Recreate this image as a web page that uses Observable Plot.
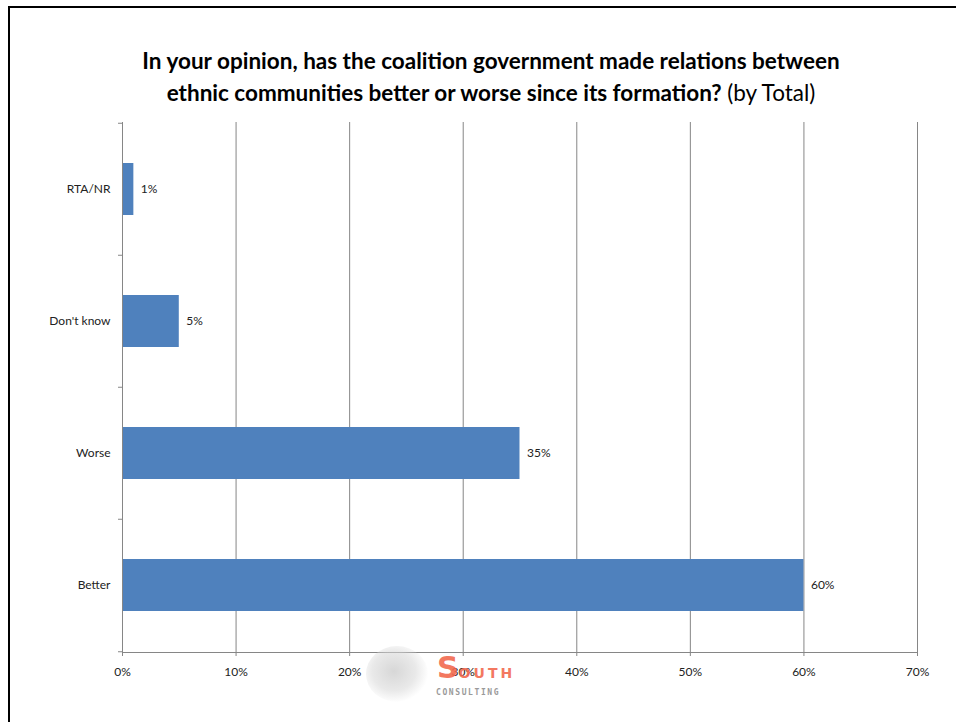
<!DOCTYPE html>
<html>
<head>
<meta charset="utf-8">
<script src="https://cdn.jsdelivr.net/npm/d3@7"></script>
<script src="https://cdn.jsdelivr.net/npm/@observablehq/plot@0.6"></script>
<style>
  html, body { margin: 0; padding: 0; background: #fff; }
  #wrap { position: relative; width: 956px; height: 722px; overflow: hidden; font-family: Lato, "Open Sans", sans-serif; }
  #border { position: absolute; left: 8px; top: 6px; width: 1000px; height: 1000px; border-left: 2.5px solid #000; border-top: 2.5px solid #000; box-sizing: border-box; }
  #title { position: absolute; left: 0; top: 45px; width: 982px; text-align: center; font-family: Lato, sans-serif; font-size: 22.5px; line-height: 32px; color: #000; font-weight: bold; }
  #title .n { font-weight: normal; }
  #chart { position: absolute; left: 0; top: 0; }
  #logo { position: absolute; left: 360px; top: 644px; width: 170px; height: 66px; }
  #globe { position: absolute; left: 6px; top: 2px; width: 62px; height: 56px; border-radius: 50%;
           background: radial-gradient(ellipse at 45% 45%, rgba(205,205,205,0.8) 0%, rgba(215,215,215,0.55) 45%, rgba(235,235,235,0.0) 72%); }
  #south { position: absolute; left: 77px; top: 6px; color: #f26a4f; font-family: "DejaVu Sans", sans-serif; font-weight: bold; opacity: 0.9; white-space: nowrap; }
  #south .big { font-size: 30px; }
  #south .small { font-size: 14px; letter-spacing: 3px; }
  #cons { position: absolute; left: 76px; top: 44px; color: #9a9a9a; font-family: "DejaVu Sans Mono", monospace; font-size: 8px; letter-spacing: 1.6px; font-weight: bold; }
</style>
</head>
<body>
<div id="wrap">
  <div id="border"></div>
  <div id="title">In your opinion, has the coalition government made relations between<br>ethnic communities better or worse since its formation? <span class="n">(by Total)</span></div>
  <div id="chart"></div>
  <div id="logo">
    <div id="globe"></div>
    <div id="south"><span class="big">S</span><span class="small">OUTH</span></div>
    <div id="cons">CONSULTING</div>
  </div>
</div>
<script>
const categories = ["RTA/NR", "Don't know", "Worse", "Better"];
const values = [0.01, 0.05, 0.35, 0.60];
const xTicks = [0, 0.1, 0.2, 0.3, 0.4, 0.5, 0.6, 0.7];

const data = categories.map((c, i) => ({label: c, value: values[i]}));

const W = 956, H = 722, mL = 122, mR = 39, mT = 122, mB = 70;
const halfStep = (H - mT - mB) / categories.length / 2;
const tickLen = 4 * 0.7 / (W - mL - mR);
const grid = "#868686";

const chart = Plot.plot({
  width: W, height: H,
  marginLeft: mL, marginRight: mR, marginTop: mT, marginBottom: mB,
  style: {fontFamily: "Lato, 'Open Sans', sans-serif", fontSize: "12px", color: "#222", background: "transparent"},
  x: {domain: [0, 0.7], label: null},
  y: {domain: categories, padding: 0, label: null},
  marks: [
    Plot.ruleX(xTicks, {stroke: grid, strokeWidth: 1}),
    Plot.barX(data, {x: "value", y: "label", fill: "#4F81BD", insetTop: 40, insetBottom: 40}),
    Plot.frame({anchor: "bottom", stroke: grid}),
    Plot.frame({anchor: "left", stroke: grid}),
    Plot.ruleY(categories, {y: d => d, x1: -tickLen, x2: 0, dy: -halfStep, stroke: grid}),
    Plot.ruleY(categories.slice(-1), {y: d => d, x1: -tickLen, x2: 0, dy: halfStep, stroke: grid}),
    Plot.axisX({ticks: xTicks, tickFormat: d => Math.round(d * 100) + "%", tickSize: 4, tickPadding: 11, stroke: grid, fill: "#222", fontSize: 12, label: null}),
    Plot.axisY({tickSize: 0, tickPadding: 12, fill: "#222", fontSize: 12, label: null}),
    Plot.text(data, {x: "value", y: "label", text: d => Math.round(d.value * 100) + "%", textAnchor: "start", dx: 7, fill: "#222", fontSize: 12})
  ]
});
document.getElementById("chart").appendChild(chart);
</script>
</body>
</html>
